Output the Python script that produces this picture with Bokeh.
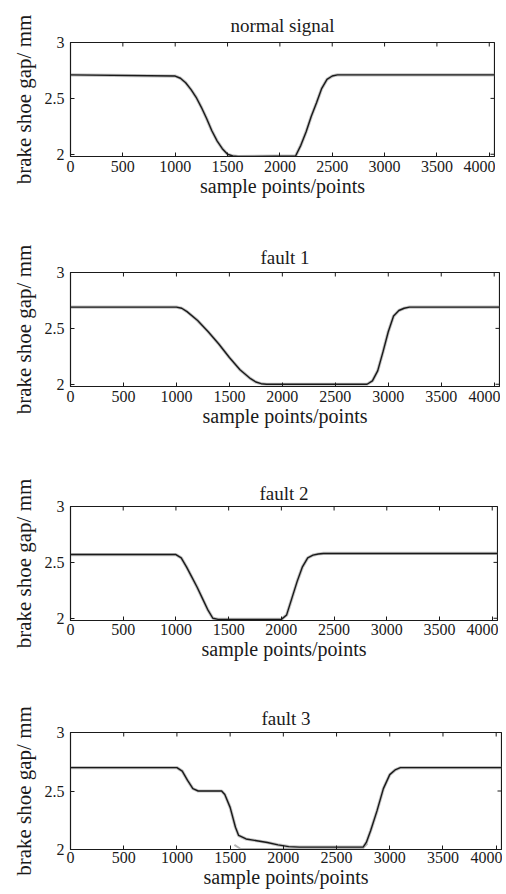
import math
from bokeh.plotting import figure
from bokeh.layouts import column
from bokeh.models import FixedTicker, Range1d, LinearAxis
from bokeh.embed import file_html
from bokeh.resources import INLINE

# ---------------- data ----------------
titles = ["normal signal", "fault 1", "fault 2", "fault 3"]
x_label = "sample points/points"
y_label = "brake shoe gap/ mm"
x_ticks = [0, 500, 1000, 1500, 2000, 2500, 3000, 3500, 4000]
y_ticks = [2, 2.5, 3]
x_max = 4050

normal_x = [0, 1000, 1050, 1100, 1150, 1200, 1250, 1300, 1350, 1400, 1450, 1500, 1550, 1600,
            2150, 2200, 2250, 2300, 2350, 2400, 2450, 2500, 2550, 4050]
normal_y = [2.71, 2.70, 2.68, 2.64, 2.58, 2.51, 2.42, 2.32, 2.21, 2.12, 2.05, 2.00, 1.985, 1.98,
            1.985, 2.08, 2.20, 2.34, 2.46, 2.59, 2.67, 2.70, 2.71, 2.71]

fault1_x = [0, 1000, 1050, 1100, 1200, 1300, 1400, 1500, 1600, 1700, 1750, 1800, 1850,
            2800, 2850, 2900, 2950, 3000, 3050, 3100, 3150, 3200, 4050]
fault1_y = [2.69, 2.69, 2.68, 2.65, 2.57, 2.47, 2.36, 2.24, 2.13, 2.05, 2.02, 2.005, 2.00,
            2.00, 2.03, 2.12, 2.29, 2.47, 2.61, 2.66, 2.68, 2.69, 2.69]

fault2_x = [0, 1000, 1050, 1100, 1150, 1200, 1250, 1300, 1350, 1400, 2000, 2050, 2100, 2150,
            2200, 2250, 2300, 2350, 2400, 4050]
fault2_y = [2.57, 2.57, 2.54, 2.46, 2.37, 2.28, 2.18, 2.08, 2.00, 1.99, 1.99, 2.03, 2.18, 2.33,
            2.46, 2.54, 2.565, 2.575, 2.58, 2.58]

fault3_x = [0, 1000, 1050, 1100, 1150, 1200, 1420, 1450, 1500, 1550, 1580, 1650, 1750, 1850,
            1950, 2050, 2150, 2750, 2780, 2820, 2880, 2940, 3000, 3050, 3100, 4050]
fault3_y = [2.70, 2.70, 2.67, 2.59, 2.52, 2.50, 2.50, 2.47, 2.36, 2.19, 2.12, 2.09, 2.075, 2.06,
            2.04, 2.025, 2.02, 2.02, 2.06, 2.16, 2.33, 2.52, 2.64, 2.68, 2.70, 2.70]
fault3_ref_x = [1540, 1600, 2740, 2790]
fault3_ref_y = [2.04, 2.004, 2.004, 2.05]

series = [(normal_x, normal_y), (fault1_x, fault1_y), (fault2_x, fault2_y), (fault3_x, fault3_y)]
y_lows = [1.98, 1.98, 1.98, 2.0]

# per panel: (min_border_left, frame_w, min_border_right, top, frame_h, bottom,
#             title_standoff, title_lift, xtick_standoff)
geo = [
    (67, 427, 1, 42, 114, 54, 10, 7, 4),
    (69, 430, 1, 62, 114, 54, 5, 4, 4),
    (68, 429, 1, 66, 114, 45, 1, 1, 3),
    (70, 431, 1, 67, 117, 44, 4, 3, 2),
]

FONT = "Liberation Serif"
INK = "#1a1a1a"
panels = []
for i, (title, (xs, ys), ylo, g) in enumerate(zip(titles, series, y_lows, geo)):
    mbl, fw, mbr, mbt, fh, mbb, tstand, tlift, xstand = g
    p = figure(width=mbl + fw + mbr, height=mbt + fh + mbb, output_backend="svg",
               toolbar_location=None, x_range=Range1d(0, x_max), y_range=Range1d(ylo, 3),
               min_border_left=mbl, min_border_right=mbr, min_border_top=mbt,
               min_border_bottom=mbb, title=title)
    p.title.align = "center"
    p.title.vertical_align = "top"
    p.title.standoff = tstand
    p.title.text_font = FONT
    p.title.text_font_size = "19px"
    p.title.text_font_style = "normal"
    p.title.text_color = INK
    p.xgrid.visible = False
    p.ygrid.visible = False
    p.outline_line_color = INK
    p.outline_line_width = 1.2
    p.background_fill_color = "white"
    p.border_fill_color = "white"

    # empty top axis used only as a spacer that lifts the title
    spacer = LinearAxis(ticker=FixedTicker(ticks=[]), major_tick_out=tlift, major_tick_in=0,
                        major_label_standoff=0, axis_line_color=None,
                        major_tick_line_color=None, minor_tick_line_color=None)
    p.add_layout(spacer, "above")

    for ax in p.xaxis:
        if ax is spacer:
            continue
        ax.ticker = FixedTicker(ticks=x_ticks)
        ax.axis_label = x_label
        ax.major_label_standoff = xstand
        ax.axis_label_standoff = 0
        ax.axis_label_text_font_size = "20px"
    for ax in p.yaxis:
        ax.ticker = FixedTicker(ticks=y_ticks)
        ax.axis_label = y_label
        ax.major_label_standoff = 6
        ax.axis_label_standoff = 6
        ax.axis_label_text_font_size = "21px"
    for ax in [a for a in p.xaxis if a is not spacer] + list(p.yaxis):
        ax.major_tick_in = 4
        ax.major_tick_out = 0
        ax.minor_tick_line_color = None
        ax.axis_line_color = INK
        ax.major_tick_line_color = INK
        ax.major_label_text_font = FONT
        ax.major_label_text_font_size = "16px"
        ax.major_label_text_color = INK
        ax.axis_label_text_font = FONT
        ax.axis_label_text_font_style = "normal"
        ax.axis_label_text_color = INK

    # inward ticks on the top and right edges of the box
    p.ray(x=x_ticks, y=[3] * len(x_ticks), length=4, length_units="screen",
          angle=-math.pi / 2, line_color=INK, line_width=1)
    p.ray(x=[x_max] * len(y_ticks), y=y_ticks, length=4, length_units="screen",
          angle=math.pi, line_color=INK, line_width=1)

    p.line(xs, ys, line_color="#9a9a9a", line_width=3.2, line_alpha=0.6)
    if i == 3:
        p.line(fault3_ref_x, fault3_ref_y, line_color="#b5b5b5", line_width=2)
    p.line(xs, ys, line_color=INK, line_width=1.4)
    panels.append(p)

layout = column(*panels, spacing=0)
open("out.html", "w").write(file_html(layout, INLINE))
